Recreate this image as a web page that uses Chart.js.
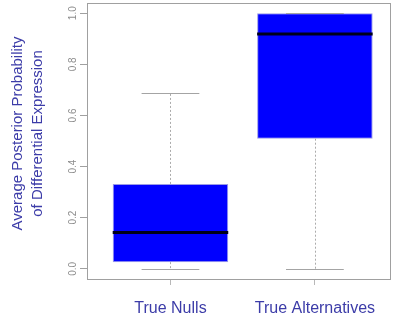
<!DOCTYPE html>
<html>
<head>
<meta charset="utf-8">
<script src="https://cdn.jsdelivr.net/npm/chart.js@4/dist/chart.umd.min.js"></script>
<style>
  html, body { margin: 0; padding: 0; background: #ffffff; }
  #wrap { width: 396px; height: 321px; }
</style>
</head>
<body>
<div id="wrap"><canvas id="chart" width="396" height="321"></canvas></div>
<script>
// Box-plot summaries per group
const categories   = ['True Nulls', 'True Alternatives'];
const whiskerLow   = [0.0, 0.0];
const lowerQuart   = [0.026, 0.509];
const medians      = [0.142, 0.919];
const upperQuart   = [0.332, 1.0];
const whiskerHigh  = [0.686, 1.0];
const yTicks       = [0.0, 0.2, 0.4, 0.6, 0.8, 1.0];
const yTitleLines  = ['Average Posterior Probability', 'of Differential Expression'];

const FONT = '"Liberation Sans", Arial, Helvetica, sans-serif';
const LABEL_BLUE = '#3c3ca8';
const AXIS_GREY = '#a0a0a0';

// Box widths in x-units (positions are 1, 2, ...)
const BOX_W = 0.8;
const CAP_W = 0.4;

const boxData = categories.map((c, i) => ({ x: i + 1, y: [lowerQuart[i], upperQuart[i]] }));

// Whiskers, caps, medians, frame and rotated texts
const boxExtras = {
  id: 'boxExtras',
  afterDatasetsDraw(chart) {
    const { ctx, scales: { x, y } } = chart;
    ctx.save();
    categories.forEach((c, i) => {
      const cx = Math.round(x.getPixelForValue(i + 1)) + 0.5;
      // dashed whiskers
      ctx.strokeStyle = '#ababab';
      ctx.lineWidth = 1;
      ctx.setLineDash([2, 2]);
      ctx.beginPath();
      ctx.moveTo(cx, y.getPixelForValue(upperQuart[i]));
      ctx.lineTo(cx, y.getPixelForValue(whiskerHigh[i]));
      ctx.moveTo(cx, y.getPixelForValue(lowerQuart[i]));
      ctx.lineTo(cx, y.getPixelForValue(whiskerLow[i]));
      ctx.stroke();
      ctx.setLineDash([]);
      // caps
      ctx.strokeStyle = '#a4a4a4';
      ctx.beginPath();
      [whiskerHigh[i], whiskerLow[i]].forEach(v => {
        const py = Math.round(y.getPixelForValue(v)) + 0.5;
        ctx.moveTo(x.getPixelForValue(i + 1 - CAP_W / 2), py);
        ctx.lineTo(x.getPixelForValue(i + 1 + CAP_W / 2), py);
      });
      ctx.stroke();
      // median
      ctx.strokeStyle = '#000018';
      ctx.lineWidth = 3;
      ctx.beginPath();
      const my = y.getPixelForValue(medians[i]);
      ctx.moveTo(x.getPixelForValue(i + 1 - BOX_W / 2), my);
      ctx.lineTo(x.getPixelForValue(i + 1 + BOX_W / 2), my);
      ctx.stroke();
    });
    ctx.restore();
  },
  afterDraw(chart) {
    const { ctx, chartArea: a, scales: { y } } = chart;
    ctx.save();
    // plot frame
    ctx.strokeStyle = AXIS_GREY;
    ctx.lineWidth = 1;
    ctx.strokeRect(a.left + 0.5, a.top + 0.5, a.right - a.left - 1, a.bottom - a.top);
    // y tick labels, parallel to the axis
    ctx.fillStyle = '#8c8c8c';
    ctx.font = '10px ' + FONT;
    ctx.textAlign = 'center';
    ctx.textBaseline = 'alphabetic';
    yTicks.forEach(v => {
      ctx.save();
      ctx.translate(75.5, y.getPixelForValue(v));
      ctx.rotate(-Math.PI / 2);
      ctx.fillText(v.toFixed(1), 0, 0);
      ctx.restore();
    });
    // y axis title
    ctx.fillStyle = LABEL_BLUE;
    ctx.font = '15px ' + FONT;
    const baseX = [21.5, 42];
    yTitleLines.forEach((t, k) => {
      ctx.save();
      ctx.translate(baseX[k], 133.5);
      ctx.rotate(-Math.PI / 2);
      ctx.fillText(t, 0, 0);
      ctx.restore();
    });
    ctx.restore();
  }
};

new Chart(document.getElementById('chart'), {
  type: 'bar',
  data: {
    datasets: [{
      data: boxData,
      backgroundColor: '#0000ff',
      borderColor: '#9a9ae6',
      borderWidth: 1,
      borderSkipped: false,
      categoryPercentage: BOX_W,
      barPercentage: 1.0
    }]
  },
  options: {
    responsive: false,
    animation: false,
    devicePixelRatio: 1,
    layout: { padding: { top: 3, right: 5, left: 0, bottom: 0 } },
    plugins: { legend: { display: false }, tooltip: { enabled: false } },
    scales: {
      x: {
        type: 'linear',
        offset: false,
        min: 0.422,
        max: 2.527,
        afterBuildTicks(scale) {
          scale.ticks = categories.map((c, i) => ({ value: i + 1 }));
        },
        afterFit(scale) { scale.height = 42; },
        ticks: {
          callback: (v) => categories[v - 1],
          color: LABEL_BLUE,
          font: { family: FONT, size: 16 },
          padding: 14,
          maxRotation: 0,
          autoSkip: false
        },
        grid: { offset: false, drawOnChartArea: false, drawTicks: true, tickLength: 6, tickColor: '#b8b8b8' },
        border: { display: false }
      },
      y: {
        type: 'linear',
        min: -0.04,
        max: 1.04,
        afterBuildTicks(scale) {
          scale.ticks = yTicks.map(v => ({ value: v }));
        },
        afterFit(scale) { scale.width = 87; },
        ticks: { display: false },
        grid: { drawOnChartArea: false, drawTicks: true, tickLength: 7, tickColor: AXIS_GREY },
        border: { display: false }
      }
    }
  },
  plugins: [boxExtras]
});
</script>
</body>
</html>
